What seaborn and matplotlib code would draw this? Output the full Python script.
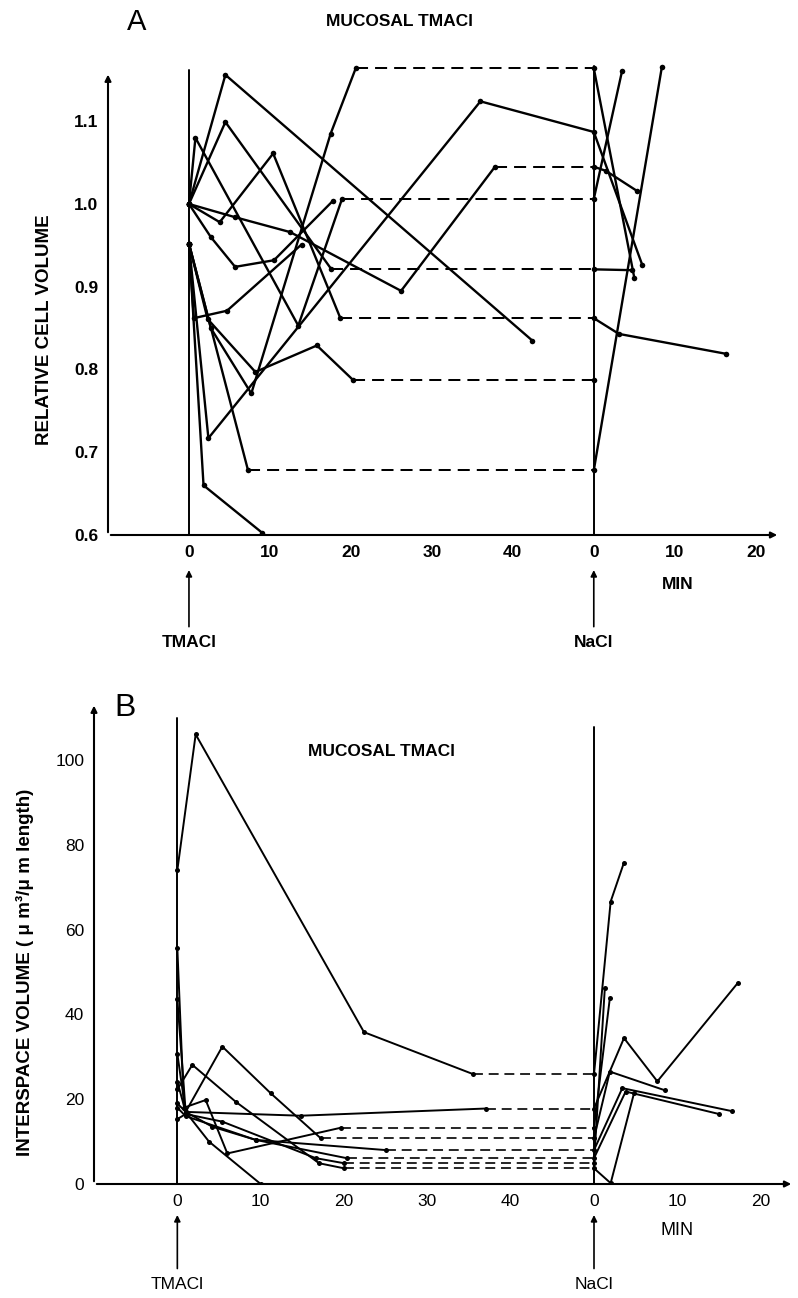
import numpy as np
import pandas as pd
import matplotlib
matplotlib.use("Agg")
import matplotlib.pyplot as plt
import seaborn as sns

# offset (min) at which the NaCl time axis restarts at 0
NACL_OFFSET = 50

# ---- panel A: relative cell volume ----
A_TM_T = [
    [0, 4.5, 42.4],
    [0, 5.7, 12.5, 26.2, 37.8],
    [0, 4.5, 17.6],
    [0, 3.8, 10.4, 18.7],
    [0, 0.8, 13.5, 18.9],
    [0, 2.4, 36.0],
    [0, 2.7, 7.7, 17.5, 20.6],
    [0, 2.3, 8.2, 15.8, 20.3],
    [0, 7.3],
    [0, 1.8, 9.0],
    [0, 2.7, 5.7, 10.5, 17.8],
    [0, 0.6, 4.7, 13.9],
]
A_TM_V = [
    [1.0, 1.156, 0.835],
    [1.0, 0.984, 0.966, 0.895, 1.045],
    [1.0, 1.099, 0.921],
    [1.0, 0.978, 1.061, 0.862],
    [1.0, 1.080, 0.853, 1.006],
    [0.952, 0.717, 1.124],
    [0.952, 0.850, 0.771, 1.085, 1.164],
    [0.952, 0.861, 0.797, 0.829, 0.787],
    [0.952, 0.678],
    [0.952, 0.660, 0.603],
    [1.0, 0.960, 0.924, 0.932, 1.004],
    [0.952, 0.862, 0.871, 0.951],
]
A_LINK = ["none", "dash", "dash", "dash", "dash", "solid",
          "dash", "dash", "dash", "none", "none", "none"]
A_NA_T = [
    [], [0, 1.5, 5.3], [0, 4.7], [0, 3.1, 16.3], [0, 3.5], [0, 6.0],
    [0, 5.0], [0], [0, 8.4], [], [], [],
]
A_NA_V = [
    [], [1.045, 1.040, 1.016], [0.921, 0.920], [0.862, 0.843, 0.819],
    [1.006, 1.161], [1.087, 0.926], [1.164, 0.911], [0.787],
    [0.678, 1.165], [], [], [],
]
A_YTICKS = [0.6, 0.7, 0.8, 0.9, 1.0, 1.1]

# ---- panel B: interspace volume ----
B_TM_T = [
    [0, 2.2, 22.4, 35.5],
    [0, 1.0, 14.8, 37.1],
    [0, 1.0, 5.4, 11.2, 17.2],
    [0, 1.8, 7.0, 17.0, 20.0],
    [0, 0.8, 3.4, 6.0, 19.7],
    [0, 1.0, 4.2, 9.4, 20.3],
    [0, 1.0, 3.8, 10.0],
    [0, 1.0, 5.4, 16.6, 20.0],
    [0, 1.0, 9.4, 25.0],
]
B_TM_V = [
    [74, 106, 35.8, 25.9],
    [19.0, 17.0, 16.1, 17.8],
    [24.1, 17.0, 32.4, 21.4, 10.8],
    [22.3, 28.1, 19.4, 4.9, 3.7],
    [55.6, 18.0, 19.8, 7.2, 13.3],
    [43.6, 17.0, 13.5, 10.4, 6.1],
    [30.7, 17.0, 10.0, 0.0],
    [15.3, 16.5, 14.7, 6.1, 4.9],
    [18.0, 16.0, 10.4, 8.0],
]
B_LINK = ["dash", "dash", "dash", "dash", "dash", "dash", "none", "dash", "dash"]
B_NA_T = [
    [0, 2.0, 3.6], [0, 3.6, 7.6, 17.3], [0, 1.9, 8.5], [0, 2.0, 4.8],
    [0, 1.9], [0, 3.8, 15.0], [], [0, 1.3], [0, 3.4, 16.5],
]
B_NA_V = [
    [25.9, 66.6, 75.8], [17.8, 34.4, 24.2, 47.5], [10.8, 26.5, 22.1],
    [3.7, 0.2, 21.4], [13.3, 43.8], [6.1, 21.8, 16.5], [], [4.9, 46.2],
    [8.0, 22.6, 17.2],
]
B_YTICKS = [0, 20, 40, 60, 80, 100]

X_TICKS = [0, 10, 20, 30, 40, 50, 60, 70]
X_TICKLABELS = ["0", "10", "20", "30", "40", "0", "10", "20"]


def build_frames(tm_t, tm_v, links, na_t, na_v):
    solid, dashed = [], []
    unit = 0
    for i in range(len(tm_t)):
        rows = [(unit, t, v) for t, v in zip(tm_t[i], tm_v[i])]
        if links[i] == "solid":
            rows += [(unit, t + NACL_OFFSET, v) for t, v in zip(na_t[i], na_v[i])]
            solid += rows
            unit += 1
            continue
        solid += rows
        unit += 1
        if links[i] == "dash":
            dashed += [(unit, tm_t[i][-1], tm_v[i][-1]),
                       (unit, NACL_OFFSET + na_t[i][0], na_v[i][0])]
            unit += 1
        if na_t[i]:
            solid += [(unit, t + NACL_OFFSET, v) for t, v in zip(na_t[i], na_v[i])]
            unit += 1
    cols = ["trace", "minutes", "value"]
    return pd.DataFrame(solid, columns=cols), pd.DataFrame(dashed, columns=cols)


def draw_panel(ax, solid, dashed, lw, dash, ms):
    sns.lineplot(data=dashed, x="minutes", y="value", units="trace", estimator=None,
                 sort=False, color="black", lw=lw * 0.85, linestyle=(0, dash),
                 legend=False, ax=ax)
    sns.lineplot(data=solid, x="minutes", y="value", units="trace", estimator=None,
                 sort=False, color="black", lw=lw, marker="o", markersize=ms,
                 markeredgewidth=0, legend=False, ax=ax)


def style_axes(ax, yticks, ylabel, bold_ticks, yarrow, vtops, label_xy):
    for s in ax.spines.values():
        s.set_visible(False)
    ax.annotate("", xy=(0, yarrow), xytext=(0, 0), xycoords="axes fraction",
                arrowprops=dict(arrowstyle="-|>", lw=1.5, color="black", mutation_scale=9))
    ax.annotate("", xy=(1.0, 0), xytext=(0, 0), xycoords="axes fraction",
                arrowprops=dict(arrowstyle="-|>", lw=1.5, color="black", mutation_scale=9))
    ax.axvline(0, ymin=0, ymax=vtops[0], color="black", lw=1.4)
    ax.axvline(NACL_OFFSET, ymin=0, ymax=vtops[1], color="black", lw=1.4)
    ax.set_xticks(X_TICKS)
    ax.set_xticklabels(X_TICKLABELS)
    ax.set_yticks(yticks)
    ax.set_yticklabels([f"{v:.1f}" if isinstance(v, float) else str(v) for v in yticks])
    weight = "bold" if bold_ticks else "normal"
    for lab in ax.get_xticklabels() + ax.get_yticklabels():
        lab.set_fontweight(weight)
    ax.tick_params(direction="in", length=11, width=1.3, labelsize=12.5, pad=7,
                   colors="black")
    ax.set_xlabel("")
    ax.set_ylabel(ylabel, fontsize=13.5, fontweight="bold", color="black")
    ax.yaxis.set_label_coords(*label_xy)
    ax.grid(False)


sns.set_style("white")
plt.rcParams["font.family"] = ["Liberation Sans", "DejaVu Sans"]
plt.rcParams["text.color"] = "black"
plt.rcParams["axes.labelcolor"] = "black"

fig = plt.figure(figsize=(7.98, 12.98), dpi=100)

# panel A
axA = fig.add_axes([108 / 798, 1 - 535 / 1298, 672 / 798, 480 / 1298])
sA, dA = build_frames(A_TM_T, A_TM_V, A_LINK, A_NA_T, A_NA_V)
draw_panel(axA, sA, dA, lw=1.7, dash=(6, 3.5), ms=4)
axA.set_xlim(-10, 73)
axA.set_ylim(0.6, 1.18)
style_axes(axA, A_YTICKS, "RELATIVE CELL VOLUME", True, 0.965, (0.969, 0.977),
           (-0.082, 0.427))

# panel B
axB = fig.add_axes([94 / 798, 1 - 1184 / 1298, 700 / 798, 492 / 1298])
sB, dB = build_frames(B_TM_T, B_TM_V, B_LINK, B_NA_T, B_NA_V)
draw_panel(axB, sB, dB, lw=1.4, dash=(6, 3.5), ms=3.6)
axB.set_xlim(-10, 74)
axB.set_ylim(0, 116)
style_axes(axB, B_YTICKS, "INTERSPACE VOLUME ( \u03bc m\u00b3/\u03bc m length)", False,
           0.978, (0.947, 0.929), (-0.086, 0.431))

# treatment arrows and labels
for ax, tip, lab, wt in [(axA, -0.073, -0.225, "bold"), (axB, -0.063, -0.205, "normal")]:
    tr = ax.get_xaxis_transform()
    for x, name in [(0, "TMACl"), (NACL_OFFSET, "NaCl")]:
        ax.annotate(name, xy=(x, tip), xytext=(x, lab), xycoords=tr, textcoords=tr,
                    ha="center", va="center", fontsize=12.5, fontweight=wt,
                    arrowprops=dict(arrowstyle="-|>", lw=1.2, color="black",
                                    mutation_scale=9, shrinkA=4, shrinkB=0))

axA.text(60.4, -0.104, "MIN", transform=axA.get_xaxis_transform(), ha="center",
         va="center", fontsize=12.5, fontweight="bold")
axB.text(60.0, -0.0935, "MIN", transform=axB.get_xaxis_transform(), ha="center",
         va="center", fontsize=13)

fig.text(137 / 798, 1 - 22 / 1298, "A", fontsize=21, ha="center", va="center")
fig.text(400 / 798, 1 - 22 / 1298, "MUCOSAL TMACl", fontsize=12.5, fontweight="bold",
         ha="center", va="center")
fig.text(125 / 798, 1 - 708 / 1298, "B", fontsize=23, ha="center", va="center")
fig.text(381 / 798, 1 - 752 / 1298, "MUCOSAL TMACl", fontsize=12.5, fontweight="bold",
         ha="center", va="center")

fig.savefig("out.png", dpi=100, facecolor="white")
